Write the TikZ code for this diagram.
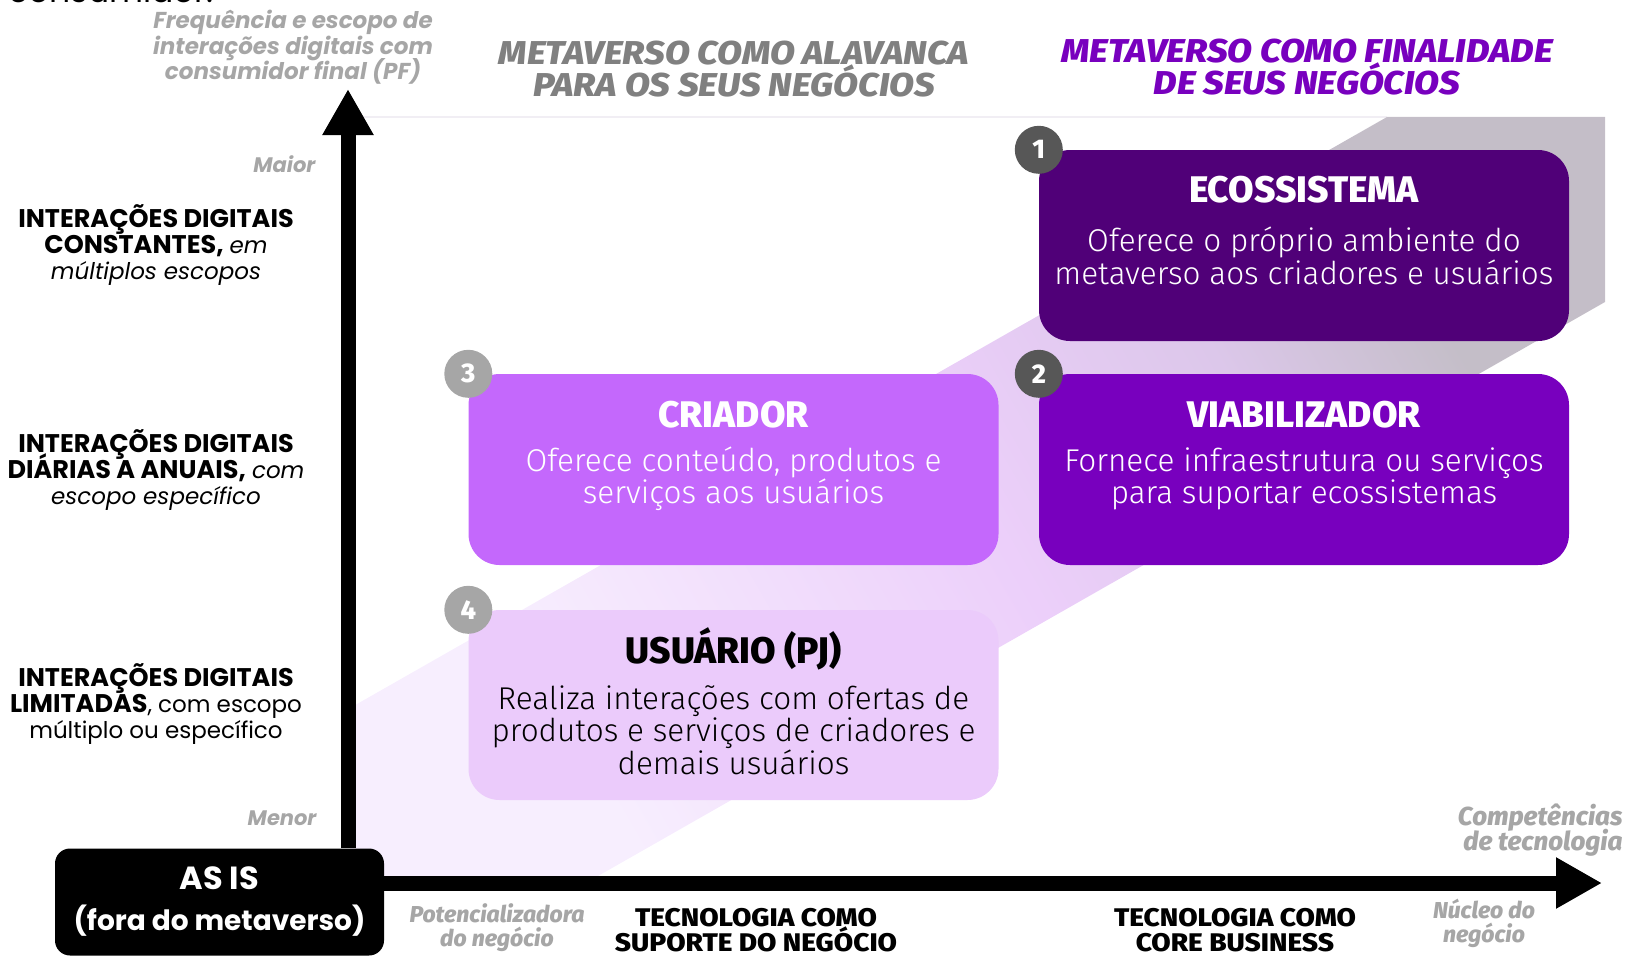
\documentclass[tikz,border=0pt]{standalone}
\usepackage{fontspec}
\setmainfont{Fira Sans}
\newfontfamily\lightfont{Fira Sans Light}
\newfontfamily\heavyfont{Fira Sans ExtraBold}
\newfontfamily\headfont[FakeStretch=1.1]{Fira Sans ExtraBold}
\newfontfamily\popfont{Poppins}
\usetikzlibrary{arrows.meta,positioning}
\setlength{\lineskiplimit}{-30pt}

\definecolor{ecopurple}{HTML}{500078}
\definecolor{viapurple}{HTML}{7800BE}
\definecolor{criapurple}{HTML}{C468FC}
\definecolor{usulilac}{HTML}{EBCBFB}
\definecolor{headgray}{HTML}{808080}
\definecolor{softgray}{HTML}{A6A6A6}
\definecolor{badgedark}{HTML}{575757}
\definecolor{bandlow}{HTML}{F7EEFE}
\definecolor{bandpink}{HTML}{ECCFFA}
\definecolor{bandmid}{HTML}{DCC7EA}
\definecolor{bandhigh}{HTML}{C4BEC8}
\definecolor{faintline}{HTML}{F1EEF4}

\pgfdeclarehorizontalshading{bandfade}{100bp}{color(0bp)=(bandlow); color(28bp)=(bandlow); color(50bp)=(bandpink); color(63bp)=(bandmid); color(73bp)=(bandhigh); color(100bp)=(bandhigh)}

\newcommand{\levelcaps}{\fontsize{25.5}{26}\selectfont\bfseries}

\begin{document}
\begin{tikzpicture}[x=1pt, y=-1pt,
  quad/.style={rounded corners=31pt, minimum width=530pt, minimum height=191pt, inner sep=0pt},
  quadtitle/.style={font=\heavyfont\fontsize{37}{40}\selectfont},
  quadtext/.style={font=\lightfont\fontsize{31.5}{32.5}\selectfont, align=center},
  badge/.style={circle, minimum size=48pt, inner sep=0pt, text=white, font=\heavyfont\fontsize{27}{27}\selectfont},
  levelnote/.style={font=\popfont\fontsize{23}{26}\selectfont, align=center},
  scalenote/.style={text=softgray, font=\popfont\fontsize{23}{25.5}\selectfont\bfseries\itshape, align=center},
  sidenote/.style={text=softgray, font=\heavyfont\fontsize{23}{23.5}\selectfont\itshape, align=center},
  sidehead/.style={font=\headfont\fontsize{33}{32}\selectfont\itshape, align=center},
  techlabel/.style={font=\headfont\fontsize{25.5}{25}\selectfont, align=center},
  axisline/.style={line width=15pt, -{Triangle[length=46pt,width=48pt]}}]

  \useasboundingbox (0,0) rectangle (1629,955);

  % band behind the quadrants
  \draw[line width=1.5pt, faintline] (350,117) -- (1387,117);
  \shade[shading=bandfade, shading angle=30]
    (350,708) -- (1387,117) -- (1605,117) -- (1605,302) -- (591,880) -- (350,880) -- cycle;

  % the four quadrants
  \node[quad, fill=ecopurple] (eco) at (1304,245.5) {};
  \node[quad, fill=viapurple] (via) at (1304,469.5) {};
  \node[quad, fill=criapurple] (cria) at (733.5,469.5) {};
  \node[quad, fill=usulilac, minimum height=190pt] (usu) at (733.5,705) {};

  \node[quadtitle, text=white] (ecotitle) at ([yshift=-40pt]eco.north) {ECOSSISTEMA};
  \node[quadtext, text=white] (ecotext) at ([yshift=-106pt]eco.north) {Oferece o próprio ambiente do\\metaverso aos criadores e usuários};
  \node[quadtitle, text=white] (viatitle) at ([yshift=-41pt]via.north) {VIABILIZADOR};
  \node[quadtext, text=white] (viatext) at ([yshift=-105pt]via.north) {Fornece infraestrutura ou serviços\\para suportar ecossistemas};
  \node[quadtitle, text=white] (criatitle) at ([yshift=-41pt]cria.north) {CRIADOR};
  \node[quadtext, text=white] (criatext) at ([yshift=-105pt]cria.north) {Oferece conteúdo, produtos e\\serviços aos usuários};
  \node[quadtitle] (usutitle) at ([yshift=-39pt]usu.north) {USUÁRIO (PJ)};
  \node[quadtext] (usutext) at ([yshift=-120pt]usu.north) {Realiza interações com ofertas de\\produtos e serviços de criadores e\\demais usuários};

  \foreach \num/\where/\col in {1/eco/badgedark, 2/via/badgedark, 3/cria/softgray, 4/usu/softgray} {  %for each numbered quadrant
    \node[badge, fill=\col] (badge\num) at (\where.north west) {\num};
  }

  % axes
  \node[fill=black, rounded corners=15pt, minimum width=329pt, minimum height=107pt, inner sep=0pt,
        text=white, align=center, font=\popfont\fontsize{28}{41}\selectfont\bfseries] (asis) at (219.5,902) {{\fontsize{32}{32}\selectfont AS IS}\\(fora do metaverso)};
  \coordinate (ytip) at (348,89);
  \coordinate (xtip) at (1602,883);
  \draw[axisline] (asis.north -| ytip) -- (ytip);
  \draw[axisline] (asis.east |- xtip) -- (xtip);

  % vertical scale
  \node[scalenote] (yname) at (293,47.5) {Frequência e escopo de\\interações digitais com\\consumidor final (PF)};
  \node[scalenote, anchor=east, font=\popfont\fontsize{21}{21}\selectfont\bfseries\itshape] (ymax) at (319,164) {Maior};
  \node[scalenote, anchor=east, font=\popfont\fontsize{21}{21}\selectfont\bfseries\itshape] (ymin) at (320,818) {Menor};
  \node[levelnote] (constant) at (156,245) {{\levelcaps INTERAÇÕES DIGITAIS}\\{\levelcaps CONSTANTES,} {\itshape em}\\{\itshape múltiplos escopos}};
  \node[levelnote] (daily) at (156,470) {{\levelcaps INTERAÇÕES DIGITAIS}\\{\levelcaps DIÁRIAS A ANUAIS,} {\itshape com}\\{\itshape escopo específico}};
  \node[levelnote] (limited) at (156,704) {{\levelcaps INTERAÇÕES DIGITAIS}\\{\levelcaps LIMITADAS}, com escopo\\múltiplo ou específico};

  % horizontal scale
  \node[sidenote, anchor=east, align=right, font=\heavyfont\fontsize{26}{25}\selectfont\itshape] (xname) at (1626,830.5) {Competências\\de tecnologia};
  \node[sidenote] (xmin) at (497,927.5) {Potencializadora\\do negócio};
  \node[sidenote] (xmax) at (1484,923.5) {Núcleo do\\negócio};
  \node[techlabel] (support) at (756,930) {TECNOLOGIA COMO\\SUPORTE DO NEGÓCIO};
  \node[techlabel] (core) at (1235,930) {TECNOLOGIA COMO\\CORE BUSINESS};

  % column headings
  \node[sidehead, text=headgray] (lever) at (734,69) {METAVERSO COMO ALAVANCA\\PARA OS SEUS NEGÓCIOS};
  \node[sidehead, text=viapurple] (purpose) at (1307,67) {METAVERSO COMO FINALIDADE\\DE SEUS NEGÓCIOS};

  \begin{scope}
    \clip (0,0) rectangle (1629,955);
    \node[font=\popfont\fontsize{33}{33}\selectfont, anchor=base west] (cut) at (5,3) {consumidor.};
  \end{scope}
\end{tikzpicture}
\end{document}
